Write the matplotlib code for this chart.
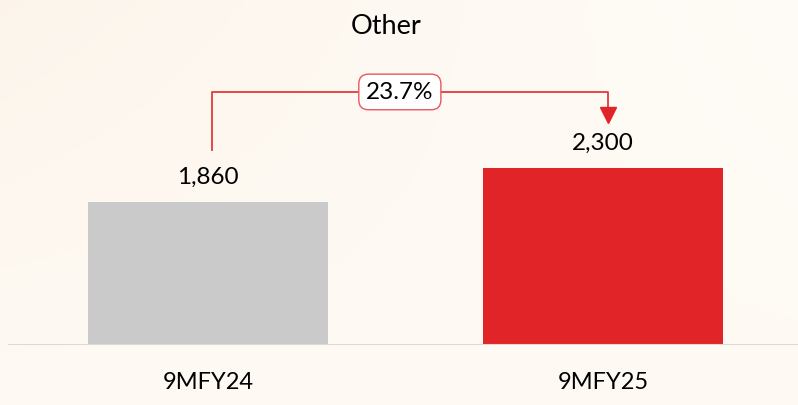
import numpy as np
import matplotlib.pyplot as plt

categories = ['9MFY24', '9MFY25']
values = [1860, 2300]
value_labels = ['1,860', '2,300']
growth_label = '23.7%'
bar_colors = ['#cacaca', '#e12427']

plt.rcParams['font.family'] = ['Lato', 'DejaVu Sans']

fig = plt.figure(figsize=(7.98, 4.06), dpi=100)

# fond légèrement dégradé
bg = fig.add_axes([0, 0, 1, 1], zorder=-1)
gx, gy = np.meshgrid(np.linspace(0, 1, 200), np.linspace(0, 1, 100))
grad = 0.6 * (1 - gx) * (1 - gy) + 0.2 * gy
c0 = np.array([255, 252, 247]) / 255
c1 = np.array([251, 240, 228]) / 255
img = c0 + (c1 - c0) * grad[..., None]
bg.imshow(img, aspect='auto', extent=[0, 1, 0, 1], origin='upper')
bg.axis('off')

ax = fig.add_axes([8 / 798, 60 / 406, 790 / 798, 346 / 406])
ax.patch.set_alpha(0)
x = np.arange(len(categories))
ax.bar(x, values, width=0.608, color=bar_colors, zorder=2)
ax.set_xlim(-0.506, 1.494)
ax.set_ylim(0, 4500)

for xi, v, lab in zip(x, values, value_labels):
    ax.text(xi, v + 200, lab, ha='center', va='bottom', fontsize=17.5, color='black')

ax.axhline(0, color='#d9d9d9', lw=1.5, zorder=3)
for s in ax.spines.values():
    s.set_visible(False)
ax.set_yticks([])
ax.set_xticks(x)
ax.set_xticklabels(categories, fontsize=17)
ax.tick_params(axis='x', length=0, pad=19)

# flèche de croissance
top = 3291
ax.plot([0.01, 0.01, 1.013, 1.013], [2536, top, top, 3020], color='#e43a3a', lw=1.3, zorder=4)
ax.plot(1.013, 2990, marker='v', color='#e12427', markersize=11, zorder=4)
ax.text(0.486, top, growth_label, ha='center', va='center', fontsize=17.5, zorder=5,
        bbox=dict(boxstyle='round,pad=0.3,rounding_size=0.4', fc='white', ec='#e8575b', lw=1))

fig.text(386 / 798, 1 - 26 / 406, 'Other', ha='center', va='center', fontsize=19.5)

fig.savefig('out.png', dpi=100)
